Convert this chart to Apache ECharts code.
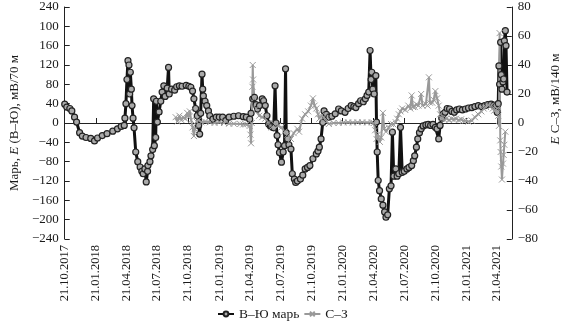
<!DOCTYPE html>
<html><head><meta charset="utf-8">
<script src="https://cdn.jsdelivr.net/npm/echarts@6/dist/echarts.min.js"></script>
<style>html,body{margin:0;padding:0;background:#fff}#c{width:570px;height:323px}</style>
</head><body><div id="c"></div>
<script>
// Days since 21.10.2017 and values, series "В–Ю марь" (left axis, мВ/70 м)
const bDays = [0,6,15,21,29,35,44,52,63,77,88,97,111,125,142,156,167,176,178,181,184,187,190,192,194,197,199,202,205,210,216,223,228,232,237,241,245,246,252,255,260,263,265,269,271,274,279,284,288,293,297,303,307,309,316,325,331,339,347,359,367,373,378,382,387,392,396,399,402,406,408,410,415,420,425,429,438,448,457,467,476,486,500,514,528,537,547,551,556,561,566,570,576,584,588,593,598,603,608,612,618,622,625,628,631,635,641,646,650,653,655,659,663,669,673,679,683,688,697,704,711,718,725,734,744,749,753,758,763,767,774,781,790,800,810,818,829,838,847,855,861,869,875,883,889,894,899,903,906,908,911,915,920,922,924,927,931,936,941,946,950,955,960,965,969,973,979,983,988,993,998,1004,1012,1018,1026,1031,1035,1040,1044,1049,1054,1060,1068,1075,1082,1089,1096,1101,1106,1110,1115,1120,1125,1131,1138,1145,1152,1159,1167,1176,1185,1194,1204,1213,1223,1232,1242,1251,1261,1268,1275,1279,1282,1284,1286,1289,1291,1293,1296,1298,1300,1303,1305,1308];
const bVals = [39,33,30,25,12,2,-20,-27,-30,-32,-37,-31,-26,-22,-17,-12,-7,-5,10,40,90,129,120,60,105,70,36,10,-10,-60,-80,-91,-100,-105,-95,-122,-100,-88,-80,-68,-55,50,-47,-30,45,2,23,45,64,77,55,72,115,60,70,68,75,77,76,78,76,74,66,50,30,15,-5,-23,20,101,70,56,45,36,25,15,8,12,12,12,5,12,14,15,13,12,8,20,50,53,38,29,36,50,46,36,15,-2,-6,-8,-10,77,0,-26,-45,-61,-81,-60,-47,112,-20,-33,-45,-54,-105,-116,-123,-120,-116,-108,-95,-92,-88,-74,-64,-58,-50,-33,1,25,18,12,14,19,29,25,22,30,36,34,32,40,46,44,50,57,64,150,90,105,70,60,98,2,-60,-119,-140,-157,-170,-184,-195,-190,-136,-130,-19,-110,-95,-110,-105,-9,-102,-100,-95,-92,-88,-78,-68,-50,-33,-20,-12,-6,-4,-3,-5,-3,-9,-12,-33,-5,10,19,22,30,29,24,22,27,29,27,29,31,32,34,36,34,36,38,39,37,36,22,40,118,80,167,100,70,85,91,170,191,160,64];
// Series "С–З" (right axis, мВ/140 м)
const gDays = [328,333,339,345,350,356,362,366,370,374,378,382,385,390,396,404,415,429,443,457,471,486,500,519,528,536,547,549,551,553,555,556,557,561,566,575,584,593,603,612,621,631,641,650,659,669,677,688,693,702,711,720,728,734,739,744,749,753,759,767,774,781,795,810,824,838,852,866,880,894,908,914,918,922,926,932,936,941,945,950,958,965,972,979,983,988,993,998,1007,1016,1022,1026,1030,1035,1040,1046,1054,1058,1068,1073,1077,1080,1087,1091,1096,1101,1106,1110,1115,1122,1129,1137,1144,1151,1157,1165,1172,1179,1185,1194,1204,1213,1223,1232,1239,1246,1253,1261,1266,1270,1275,1279,1282,1284,1286,1288,1289,1291,1293,1296,1298,1300,1303];
const gVals = [4,1,5,2,4,3,7,4,8,2,-3,-9,-4,1,2,0.5,1,0.5,0,0.5,0,-0.5,-0.5,-0.7,-1,-1,-2,-8,-14,0,25,40,30,17,10,5,4,3,0,-3,-1,-2,-3,-6,-8,-11,-7,-4,-6,3,6,8,12,17,12,10,6,3,5,4,1,-0.7,0,0,0.3,0.5,0.3,0.5,0.5,0.3,0.5,0,-5,-11,-8,-13,-10,7,-4,-6,-3,-0.7,-1,0.5,3,6,8,10,9,12,10,19,11,11,13,12,20,12,13,12,31.5,14,14,16,22,17,12,6,3,2.5,3,2,3,2.5,3,2,2.5,1.5,1.6,1,1.6,4,6,8,10,11,12,12,10,8.5,9,10,5,-2,62,-12,-20,-30,-39,-28,-22,-15,-6];
const tickDates = [[2017,10],[2018,1],[2018,4],[2018,7],[2018,10],[2019,1],[2019,4],[2019,7],[2019,10],[2020,1],[2020,4],[2020,7],[2020,10],[2021,1],[2021,4]];
const legendNames = ['В–Ю марь','С–З'];

const DAY = 86400000;
const t0 = Date.UTC(2017,9,21);
const ticks = tickDates.map(([y,m]) => Math.round((Date.UTC(y,m-1,21)-t0)/DAY));
const pad = n => (n<10?'0':'')+n;
const fmtDay = v => { const d = new Date(t0+v*DAY); return pad(d.getUTCDate())+'.'+pad(d.getUTCMonth()+1)+'.'+d.getUTCFullYear(); };
const minus = v => (v<0 ? '\u2212'+(-v) : ''+v);
const serif = '"Liberation Serif","DejaVu Serif",serif';
const txt = '#1a1a1a';

const chart = echarts.init(document.getElementById('c'));
chart.setOption({
  animation:false,
  grid:{left:53,right:48,top:7,bottom:84},
  legend:{data:legendNames,bottom:-3,left:212,itemWidth:16,itemHeight:6,itemGap:4,
    textStyle:{fontFamily:serif,fontSize:13.5,color:txt}},
  xAxis:{type:'value',min:0,max:1322,
    axisLine:{lineStyle:{color:'#222',width:1}},
    splitLine:{show:false},
    axisTick:{inside:true,length:5,lineStyle:{color:'#222'},customValues:ticks},
    axisLabel:{rotate:90,margin:6,fontFamily:serif,fontSize:12.5,color:txt,customValues:ticks,formatter:fmtDay}},
  yAxis:[
    {type:'value',min:-240,max:240,interval:40,position:'left',
     name:'{n|Марь, }{i|E}{n| (В–Ю), мВ/70 м}',nameLocation:'middle',nameGap:38,nameRotate:90,
     nameTextStyle:{rich:{n:{fontFamily:serif,fontSize:13,color:txt},i:{fontFamily:serif,fontSize:13,fontStyle:'italic',color:txt}}},
     axisLine:{show:true,lineStyle:{color:'#222'}},axisTick:{show:true,inside:true,length:5,lineStyle:{color:'#222'}},
     splitLine:{show:false},
     axisLabel:{fontFamily:serif,fontSize:13,color:txt,margin:6,formatter:v=>v===200?'100':minus(v)}},
    {type:'value',min:-80,max:80,interval:20,position:'right',
     name:'{i|E}{n| С–З, мВ/140 м}',nameLocation:'middle',nameGap:30,nameRotate:90,
     nameTextStyle:{padding:[0,0,0,48],rich:{n:{fontFamily:serif,fontSize:13,color:txt},i:{fontFamily:serif,fontSize:13,fontStyle:'italic',color:txt}}},
     axisLine:{show:true,lineStyle:{color:'#222'}},axisTick:{show:true,inside:true,length:5,lineStyle:{color:'#222'}},
     splitLine:{show:false},
     axisLabel:{fontFamily:serif,fontSize:13,color:txt,margin:6,formatter:minus}}
  ],
  series:[
    {name:legendNames[0],type:'line',yAxisIndex:0,data:bDays.map((d,i)=>[d,bVals[i]]),
     symbol:'circle',symbolSize:6,showAllSymbol:true,
     lineStyle:{color:'#111',width:3},itemStyle:{color:'#aaa',borderColor:'#222',borderWidth:1.2}},
    {name:legendNames[1],type:'line',yAxisIndex:1,data:gDays.map((d,i)=>[d,gVals[i]]),
     symbol:'path://M0,0L10,10M10,0L0,10',symbolSize:6,showAllSymbol:true,
     lineStyle:{color:'#999',width:2},itemStyle:{color:'#999',borderColor:'#9a9a9a',borderWidth:1}}
  ]
});
</script></body></html>
